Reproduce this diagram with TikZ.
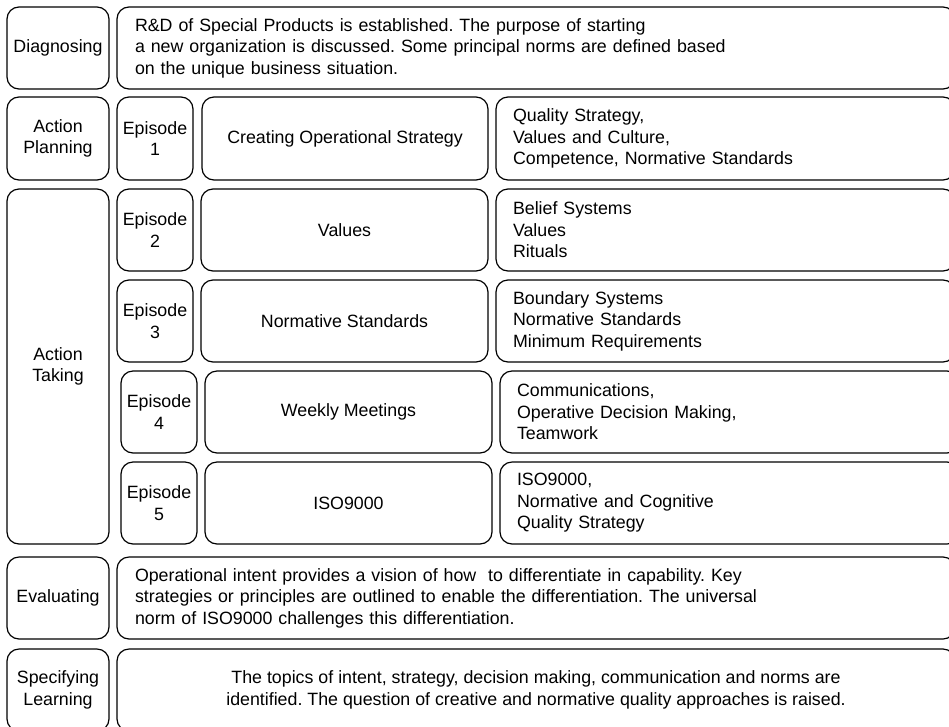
\documentclass[tikz,border=0pt]{standalone}
\usepackage{fontspec}
\setmainfont{Liberation Sans}
\begin{document}
\frenchspacing
\begin{tikzpicture}[x=1pt,y=-1pt,
  font=\fontsize{17.8}{21.5}\selectfont,
  box/.style={draw=black, line width=1.2pt, rounded corners=12pt, inner sep=0pt, align=center},
  textbox/.style={box, align=left, inner xsep=18pt},
]
\useasboundingbox (0,0) rectangle (949,726);
\begin{scope}
\clip (0,0) rectangle (949,726);

% phase column
\node[box, minimum width=102pt, minimum height=82pt] (diag) at (58,48) {Diagnosing};
\node[box, minimum width=102pt, minimum height=83pt] (plan) at (58,138.5) {Action\\Planning};
\node[box, minimum width=102pt, minimum height=355pt] (take) at (58,366.5) {Action\\Taking};
\node[box, minimum width=102pt, minimum height=82pt] (eval) at (58,598) {Evaluating};
\node[box, minimum width=102pt, minimum height=82pt] (spec) at (58,690) {Specifying\\Learning};

% wide description rows
\node[textbox, minimum width=838pt, minimum height=82pt, text width=802pt] (diagtxt) at (536,48)
  {R\&D of Special Products is established. The purpose of starting\\
   a new organization is discussed. Some principal norms are defined based\\
   on the unique business situation.};
\node[textbox, minimum width=838pt, minimum height=82pt, text width=802pt] (evaltxt) at (536,598)
  {Operational intent provides a vision of how\ \ to differentiate in capability. Key\\
   strategies or principles are outlined to enable the differentiation. The universal\\
   norm of ISO9000 challenges this differentiation.};
\node[box, minimum width=838pt, minimum height=82pt] (spectxt) at (536,690)
  {The topics of intent, strategy, decision making, communication and norms are\\
   identified. The question of creative and normative quality approaches is raised.};

% episodes
\node[box, minimum width=76pt, minimum height=83pt] (ep1) at (155,138.5) {Episode\\1};
\node[box, minimum width=76pt, minimum height=82pt] (ep2) at (155,230) {Episode\\2};
\node[box, minimum width=76pt, minimum height=82pt] (ep3) at (155,321) {Episode\\3};
\node[box, minimum width=76pt, minimum height=82pt] (ep4) at (159,412) {Episode\\4};
\node[box, minimum width=76pt, minimum height=82pt] (ep5) at (159,503) {Episode\\5};

% episode titles
\node[box, minimum width=286pt, minimum height=83pt] (t1) at (345,138.5) {Creating Operational Strategy};
\node[box, minimum width=287pt, minimum height=82pt] (t2) at (344.5,230) {Values};
\node[box, minimum width=287pt, minimum height=82pt] (t3) at (344.5,321) {Normative Standards};
\node[box, minimum width=287pt, minimum height=82pt] (t4) at (348.5,412) {Weekly Meetings};
\node[box, minimum width=287pt, minimum height=82pt] (t5) at (348.5,503) {ISO9000};

% episode themes
\node[textbox, inner xsep=17pt, minimum width=459pt, minimum height=83pt, text width=425pt] (r1) at (725.5,138.5)
  {Quality Strategy,\\Values and Culture,\\Competence, Normative Standards};
\node[textbox, inner xsep=17pt, minimum width=459pt, minimum height=82pt, text width=425pt] (r2) at (725.5,230)
  {Belief Systems\\Values\\Rituals};
\node[textbox, inner xsep=17pt, minimum width=459pt, minimum height=82pt, text width=425pt] (r3) at (725.5,321)
  {Boundary Systems\\Normative Standards\\Minimum Requirements};
\node[textbox, inner xsep=17pt, minimum width=459pt, minimum height=82pt, text width=425pt] (r4) at (729.5,412)
  {Communications,\\Operative Decision Making,\\Teamwork};
\node[textbox, inner xsep=17pt, minimum width=459pt, minimum height=82pt, text width=425pt] (r5) at (729.5,503)
  {ISO9000,\\Normative and Cognitive\\Quality Strategy};
\end{scope}
\end{tikzpicture}
\end{document}
